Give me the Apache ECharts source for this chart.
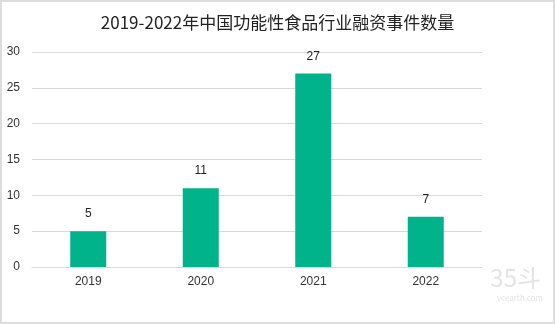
<!DOCTYPE html>
<html><head><meta charset="utf-8">
<script src="https://cdn.jsdelivr.net/npm/echarts@6/dist/echarts.min.js"></script>
<style>html,body{margin:0;padding:0;background:#fff;}#c{width:555px;height:324px;box-sizing:border-box;border:2px solid #dcdcdc;}</style>
</head><body><div id="c"></div>
<script>
const title = '2019-2022年中国功能性食品行业融资事件数量';
const categories = ['2019', '2020', '2021', '2022'];
const values = [5, 11, 27, 7];
const yTicks = {min: 0, max: 30, interval: 5};

const chart = echarts.init(document.getElementById('c'), null, {renderer: 'canvas'});
const font = '"Noto Sans CJK SC", "Liberation Sans", sans-serif';
const numFont = '"Liberation Sans", Arial, sans-serif';
chart.setOption({
  animation: false,
  title: {text: title, left: 'center', top: 7,
    textStyle: {fontSize: 17, fontWeight: 'normal', color: '#222', fontFamily: font}},
  grid: {left: 30, right: 71, top: 50, bottom: 55, containLabel: false},
  xAxis: {type: 'category', data: categories,
    axisLine: {lineStyle: {color: '#d9d9d9'}}, axisTick: {show: false},
    axisLabel: {color: '#333', fontSize: 12, margin: 9, fontFamily: numFont}},
  yAxis: {type: 'value', min: yTicks.min, max: yTicks.max, interval: yTicks.interval,
    axisLine: {show: false}, axisTick: {show: false},
    splitLine: {lineStyle: {color: '#d9d9d9'}},
    axisLabel: {color: '#333', fontSize: 12, margin: 12, fontFamily: numFont}},
  series: [{type: 'bar', data: values, barWidth: '32%',
    itemStyle: {color: '#00b38a'},
    label: {show: true, position: 'top', distance: 11, color: '#222', fontSize: 12, fontFamily: numFont}}],
  graphic: [
    {type: 'text', right: 12, top: 264, style: {text: '35斗', fontSize: 24, fill: '#e4e4e4', fontFamily: font}},
    {type: 'text', right: 10, top: 292, style: {text: 'vcearth.com', fontSize: 8, fill: '#e4e4e4', fontFamily: font}}
  ]
});
</script></body></html>
